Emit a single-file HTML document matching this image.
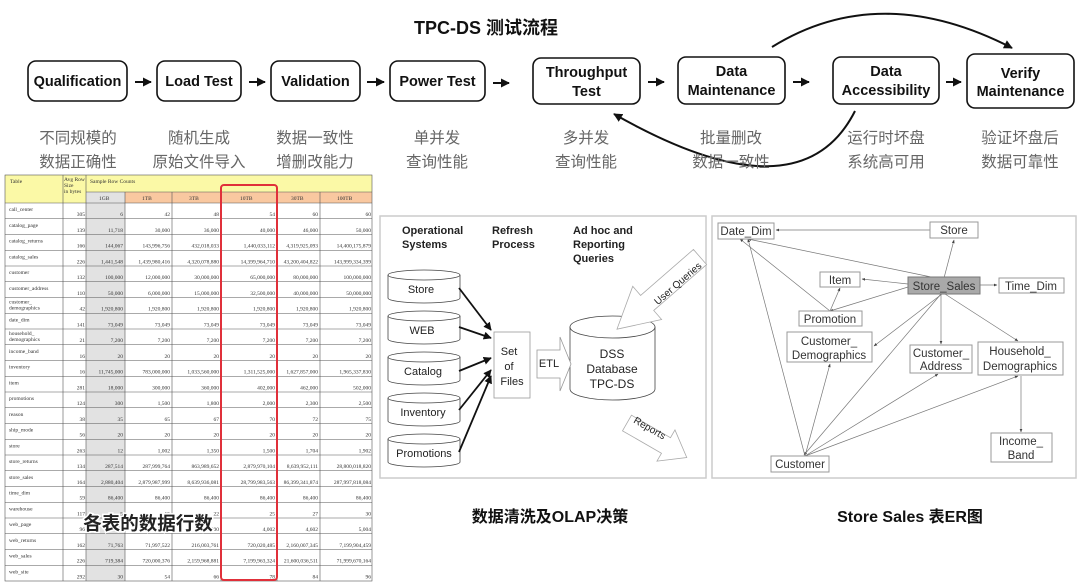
<!DOCTYPE html>
<html><head><meta charset="utf-8"><style>
html,body{margin:0;padding:0;background:#fff;}
svg{display:block;font-family:"Liberation Sans","Noto Sans CJK SC",sans-serif;}
.t{font-family:"Liberation Serif",serif;font-size:5.5px;fill:#333;}
.n{font-family:"Liberation Serif",serif;font-size:5.5px;fill:#333;text-anchor:end;}
.fb{fill:#fff;stroke:#111;stroke-width:1.6;}
.ft{font-size:14.5px;fill:#111;text-anchor:middle;font-weight:bold;}
.sub{font-size:15.5px;fill:#666;text-anchor:middle;font-family:"Liberation Sans","Noto Sans CJK SC",sans-serif;}
.er{fill:#fff;stroke:#999;stroke-width:1;}
.et{font-size:11.5px;fill:#333;text-anchor:middle;}
.el{stroke:#777;stroke-width:0.7;fill:none;marker-end:url(#sa);}
.mt{font-size:11px;fill:#222;text-anchor:middle;}
</style></head><body>
<svg width="1080" height="586" viewBox="0 0 1080 586" xmlns="http://www.w3.org/2000/svg">
<defs>
<marker id="ba" viewBox="0 0 10 10" refX="9" refY="5" markerWidth="4.5" markerHeight="4.5" orient="auto"><path d="M0,0L10,5L0,10z" fill="#111"/></marker>
<marker id="sa" viewBox="0 0 10 10" refX="9" refY="5" markerWidth="5" markerHeight="5" orient="auto"><path d="M0,1L10,5L0,9z" fill="#444"/></marker>
</defs>
<rect width="1080" height="586" fill="#fff"/>
<text x="486" y="34" font-size="18" font-weight="bold" text-anchor="middle" fill="#111">TPC-DS 测试流程</text>

<!-- flow boxes -->
<rect class="fb" x="28" y="61" width="99" height="40" rx="8"/><text class="ft" x="77.5" y="86">Qualification</text>
<rect class="fb" x="157" y="61" width="84" height="40" rx="8"/><text class="ft" x="199" y="86">Load Test</text>
<rect class="fb" x="271" y="61" width="89" height="40" rx="8"/><text class="ft" x="315.5" y="86">Validation</text>
<rect class="fb" x="390" y="61" width="95" height="40" rx="8"/><text class="ft" x="437.5" y="86">Power Test</text>
<rect class="fb" x="533" y="58" width="107" height="46" rx="8"/><text class="ft" x="586.5" y="77">Throughput</text><text class="ft" x="586.5" y="96">Test</text>
<rect class="fb" x="678" y="57" width="107" height="47" rx="8"/><text class="ft" x="731.5" y="76">Data</text><text class="ft" x="731.5" y="95">Maintenance</text>
<rect class="fb" x="833" y="57" width="106" height="47" rx="8"/><text class="ft" x="886" y="76">Data</text><text class="ft" x="886" y="95">Accessibility</text>
<rect class="fb" x="967" y="54" width="107" height="54" rx="8"/><text class="ft" x="1020.5" y="78">Verify</text><text class="ft" x="1020.5" y="96">Maintenance</text>
<g stroke="#111" stroke-width="2" marker-end="url(#ba)">
<line x1="135" y1="82" x2="151" y2="82"/><line x1="249" y1="82" x2="265" y2="82"/>
<line x1="367" y1="82" x2="384" y2="82"/><line x1="493" y1="83" x2="509" y2="83"/>
<line x1="648" y1="82" x2="664" y2="82"/><line x1="793" y1="82" x2="809" y2="82"/>
<line x1="946" y1="82" x2="961" y2="82"/>
</g>
<path d="M772,47 Q880,-20 1012,48" stroke="#111" stroke-width="2" fill="none" marker-end="url(#ba)"/>
<path d="M855,111 Q800,220 614,114" stroke="#111" stroke-width="2" fill="none" marker-end="url(#ba)"/>

<g class="sub">
<text x="78" y="143">不同规模的</text><text x="78" y="167">数据正确性</text>
<text x="199" y="143">随机生成</text><text x="199" y="167">原始文件导入</text>
<text x="315" y="143">数据一致性</text><text x="315" y="167">增删改能力</text>
<text x="437" y="143">单并发</text><text x="437" y="167">查询性能</text>
<text x="586" y="143">多并发</text><text x="586" y="167">查询性能</text>
<text x="731" y="143">批量删改</text><text x="731" y="167">数据一致性</text>
<text x="886" y="143">运行时坏盘</text><text x="886" y="167">系统高可用</text>
<text x="1020" y="143">验证坏盘后</text><text x="1020" y="167">数据可靠性</text>
</g>

<!-- table -->
<rect x="5" y="175" width="367" height="28" fill="#fbf9a6"/>
<rect x="86" y="192" width="39" height="389" fill="#e2e2e2"/>
<rect x="125" y="192" width="247" height="11" fill="#f9c8a0"/>
<g stroke="#555" stroke-width="0.6" fill="none">
<rect x="5" y="175" width="367" height="406"/>
<line x1="63" y1="175" x2="63" y2="581"/><line x1="86" y1="175" x2="86" y2="581"/>
<line x1="125" y1="192" x2="125" y2="581"/><line x1="172" y1="192" x2="172" y2="581"/>
<line x1="221" y1="192" x2="221" y2="581"/><line x1="277" y1="192" x2="277" y2="581"/>
<line x1="320" y1="192" x2="320" y2="581"/>
<line x1="86" y1="192" x2="372" y2="192"/>
<line x1="5" y1="203" x2="372" y2="203"/>
<line x1="5" y1="218.75" x2="372" y2="218.75"/><line x1="5" y1="234.5" x2="372" y2="234.5"/><line x1="5" y1="250.25" x2="372" y2="250.25"/><line x1="5" y1="266" x2="372" y2="266"/><line x1="5" y1="281.75" x2="372" y2="281.75"/><line x1="5" y1="297.5" x2="372" y2="297.5"/><line x1="5" y1="313.25" x2="372" y2="313.25"/><line x1="5" y1="329" x2="372" y2="329"/><line x1="5" y1="344.75" x2="372" y2="344.75"/><line x1="5" y1="360.5" x2="372" y2="360.5"/><line x1="5" y1="376.25" x2="372" y2="376.25"/><line x1="5" y1="392" x2="372" y2="392"/><line x1="5" y1="407.75" x2="372" y2="407.75"/><line x1="5" y1="423.5" x2="372" y2="423.5"/><line x1="5" y1="439.25" x2="372" y2="439.25"/><line x1="5" y1="455" x2="372" y2="455"/><line x1="5" y1="470.75" x2="372" y2="470.75"/><line x1="5" y1="486.5" x2="372" y2="486.5"/><line x1="5" y1="502.25" x2="372" y2="502.25"/><line x1="5" y1="518" x2="372" y2="518"/><line x1="5" y1="533.75" x2="372" y2="533.75"/><line x1="5" y1="549.5" x2="372" y2="549.5"/><line x1="5" y1="565.25" x2="372" y2="565.25"/>
</g>
<text class="t" x="10" y="183">Table</text><text class="t" x="64" y="181">Avg Row</text><text class="t" x="64" y="187">Size</text><text class="t" x="64" y="193">in bytes</text>
<text class="t" x="90" y="183">Sample Row Counts</text>
<text class="t" x="99" y="200">1GB</text><text class="t" x="142" y="200">1TB</text><text class="t" x="189" y="200">3TB</text><text class="t" x="240" y="200">10TB</text><text class="t" x="291" y="200">30TB</text><text class="t" x="337" y="200">100TB</text>

<g transform="translate(0,203)"><text class="t" x="9" y="8">call_center</text><text class="n" x="85" y="13">305</text><text class="n" x="123" y="13">6</text><text class="n" x="170" y="13">42</text><text class="n" x="219" y="13">48</text><text class="n" x="275" y="13">54</text><text class="n" x="318" y="13">60</text><text class="n" x="371" y="13">60</text></g>
<g transform="translate(0,218.75)"><text class="t" x="9" y="8">catalog_page</text><text class="n" x="85" y="13">139</text><text class="n" x="123" y="13">11,718</text><text class="n" x="170" y="13">30,000</text><text class="n" x="219" y="13">36,000</text><text class="n" x="275" y="13">40,000</text><text class="n" x="318" y="13">46,000</text><text class="n" x="371" y="13">50,000</text></g>
<g transform="translate(0,234.5)"><text class="t" x="9" y="8">catalog_returns</text><text class="n" x="85" y="13">166</text><text class="n" x="123" y="13">144,067</text><text class="n" x="170" y="13">143,996,756</text><text class="n" x="219" y="13">432,018,033</text><text class="n" x="275" y="13">1,440,033,112</text><text class="n" x="318" y="13">4,319,925,093</text><text class="n" x="371" y="13">14,400,175,879</text></g>
<g transform="translate(0,250.25)"><text class="t" x="9" y="8">catalog_sales</text><text class="n" x="85" y="13">226</text><text class="n" x="123" y="13">1,441,548</text><text class="n" x="170" y="13">1,439,980,416</text><text class="n" x="219" y="13">4,320,078,880</text><text class="n" x="275" y="13">14,399,964,710</text><text class="n" x="318" y="13">43,200,404,822</text><text class="n" x="371" y="13">143,999,334,399</text></g>
<g transform="translate(0,266)"><text class="t" x="9" y="8">customer</text><text class="n" x="85" y="13">132</text><text class="n" x="123" y="13">100,000</text><text class="n" x="170" y="13">12,000,000</text><text class="n" x="219" y="13">30,000,000</text><text class="n" x="275" y="13">65,000,000</text><text class="n" x="318" y="13">80,000,000</text><text class="n" x="371" y="13">100,000,000</text></g>
<g transform="translate(0,281.75)"><text class="t" x="9" y="8">customer_address</text><text class="n" x="85" y="13">110</text><text class="n" x="123" y="13">50,000</text><text class="n" x="170" y="13">6,000,000</text><text class="n" x="219" y="13">15,000,000</text><text class="n" x="275" y="13">32,500,000</text><text class="n" x="318" y="13">40,000,000</text><text class="n" x="371" y="13">50,000,000</text></g>
<g transform="translate(0,297.5)"><text class="t" x="9" y="6">customer_</text><text class="t" x="9" y="12">demographics</text><text class="n" x="85" y="13">42</text><text class="n" x="123" y="13">1,920,800</text><text class="n" x="170" y="13">1,920,800</text><text class="n" x="219" y="13">1,920,800</text><text class="n" x="275" y="13">1,920,800</text><text class="n" x="318" y="13">1,920,800</text><text class="n" x="371" y="13">1,920,800</text></g>
<g transform="translate(0,313.25)"><text class="t" x="9" y="8">date_dim</text><text class="n" x="85" y="13">141</text><text class="n" x="123" y="13">73,049</text><text class="n" x="170" y="13">73,049</text><text class="n" x="219" y="13">73,049</text><text class="n" x="275" y="13">73,049</text><text class="n" x="318" y="13">73,049</text><text class="n" x="371" y="13">73,049</text></g>
<g transform="translate(0,329)"><text class="t" x="9" y="6">household_</text><text class="t" x="9" y="12">demographics</text><text class="n" x="85" y="13">21</text><text class="n" x="123" y="13">7,200</text><text class="n" x="170" y="13">7,200</text><text class="n" x="219" y="13">7,200</text><text class="n" x="275" y="13">7,200</text><text class="n" x="318" y="13">7,200</text><text class="n" x="371" y="13">7,200</text></g>
<g transform="translate(0,344.75)"><text class="t" x="9" y="8">income_band</text><text class="n" x="85" y="13">16</text><text class="n" x="123" y="13">20</text><text class="n" x="170" y="13">20</text><text class="n" x="219" y="13">20</text><text class="n" x="275" y="13">20</text><text class="n" x="318" y="13">20</text><text class="n" x="371" y="13">20</text></g>
<g transform="translate(0,360.5)"><text class="t" x="9" y="8">inventory</text><text class="n" x="85" y="13">16</text><text class="n" x="123" y="13">11,745,000</text><text class="n" x="170" y="13">783,000,000</text><text class="n" x="219" y="13">1,033,560,000</text><text class="n" x="275" y="13">1,311,525,000</text><text class="n" x="318" y="13">1,627,857,000</text><text class="n" x="371" y="13">1,965,337,830</text></g>
<g transform="translate(0,376.25)"><text class="t" x="9" y="8">item</text><text class="n" x="85" y="13">281</text><text class="n" x="123" y="13">18,000</text><text class="n" x="170" y="13">300,000</text><text class="n" x="219" y="13">360,000</text><text class="n" x="275" y="13">402,000</text><text class="n" x="318" y="13">462,000</text><text class="n" x="371" y="13">502,000</text></g>
<g transform="translate(0,392)"><text class="t" x="9" y="8">promotions</text><text class="n" x="85" y="13">124</text><text class="n" x="123" y="13">300</text><text class="n" x="170" y="13">1,500</text><text class="n" x="219" y="13">1,800</text><text class="n" x="275" y="13">2,000</text><text class="n" x="318" y="13">2,300</text><text class="n" x="371" y="13">2,500</text></g>
<g transform="translate(0,407.75)"><text class="t" x="9" y="8">reason</text><text class="n" x="85" y="13">38</text><text class="n" x="123" y="13">35</text><text class="n" x="170" y="13">65</text><text class="n" x="219" y="13">67</text><text class="n" x="275" y="13">70</text><text class="n" x="318" y="13">72</text><text class="n" x="371" y="13">75</text></g>
<g transform="translate(0,423.5)"><text class="t" x="9" y="8">ship_mode</text><text class="n" x="85" y="13">56</text><text class="n" x="123" y="13">20</text><text class="n" x="170" y="13">20</text><text class="n" x="219" y="13">20</text><text class="n" x="275" y="13">20</text><text class="n" x="318" y="13">20</text><text class="n" x="371" y="13">20</text></g>
<g transform="translate(0,439.25)"><text class="t" x="9" y="8">store</text><text class="n" x="85" y="13">263</text><text class="n" x="123" y="13">12</text><text class="n" x="170" y="13">1,002</text><text class="n" x="219" y="13">1,350</text><text class="n" x="275" y="13">1,500</text><text class="n" x="318" y="13">1,704</text><text class="n" x="371" y="13">1,902</text></g>
<g transform="translate(0,455)"><text class="t" x="9" y="8">store_returns</text><text class="n" x="85" y="13">134</text><text class="n" x="123" y="13">287,514</text><text class="n" x="170" y="13">287,999,764</text><text class="n" x="219" y="13">863,989,652</text><text class="n" x="275" y="13">2,879,970,104</text><text class="n" x="318" y="13">8,639,952,111</text><text class="n" x="371" y="13">28,800,018,820</text></g>
<g transform="translate(0,470.75)"><text class="t" x="9" y="8">store_sales</text><text class="n" x="85" y="13">164</text><text class="n" x="123" y="13">2,880,404</text><text class="n" x="170" y="13">2,879,987,999</text><text class="n" x="219" y="13">8,639,936,081</text><text class="n" x="275" y="13">28,799,983,563</text><text class="n" x="318" y="13">86,399,341,874</text><text class="n" x="371" y="13">287,997,818,084</text></g>
<g transform="translate(0,486.5)"><text class="t" x="9" y="8">time_dim</text><text class="n" x="85" y="13">59</text><text class="n" x="123" y="13">86,400</text><text class="n" x="170" y="13">86,400</text><text class="n" x="219" y="13">86,400</text><text class="n" x="275" y="13">86,400</text><text class="n" x="318" y="13">86,400</text><text class="n" x="371" y="13">86,400</text></g>
<g transform="translate(0,502.25)"><text class="t" x="9" y="8">warehouse</text><text class="n" x="85" y="13">117</text><text class="n" x="123" y="13">5</text><text class="n" x="170" y="13">15</text><text class="n" x="219" y="13">22</text><text class="n" x="275" y="13">25</text><text class="n" x="318" y="13">27</text><text class="n" x="371" y="13">30</text></g>
<g transform="translate(0,518)"><text class="t" x="9" y="8">web_page</text><text class="n" x="85" y="13">96</text><text class="n" x="123" y="13">60</text><text class="n" x="170" y="13">3,000</text><text class="n" x="219" y="13">3,600</text><text class="n" x="275" y="13">4,002</text><text class="n" x="318" y="13">4,602</text><text class="n" x="371" y="13">5,004</text></g>
<g transform="translate(0,533.75)"><text class="t" x="9" y="8">web_returns</text><text class="n" x="85" y="13">162</text><text class="n" x="123" y="13">71,763</text><text class="n" x="170" y="13">71,997,522</text><text class="n" x="219" y="13">216,003,761</text><text class="n" x="275" y="13">720,020,485</text><text class="n" x="318" y="13">2,160,007,345</text><text class="n" x="371" y="13">7,199,904,459</text></g>
<g transform="translate(0,549.5)"><text class="t" x="9" y="8">web_sales</text><text class="n" x="85" y="13">226</text><text class="n" x="123" y="13">719,384</text><text class="n" x="170" y="13">720,000,376</text><text class="n" x="219" y="13">2,159,968,881</text><text class="n" x="275" y="13">7,199,963,324</text><text class="n" x="318" y="13">21,600,036,511</text><text class="n" x="371" y="13">71,999,670,164</text></g>
<g transform="translate(0,565.25)"><text class="t" x="9" y="8">web_site</text><text class="n" x="85" y="13">292</text><text class="n" x="123" y="13">30</text><text class="n" x="170" y="13">54</text><text class="n" x="219" y="13">66</text><text class="n" x="275" y="13">78</text><text class="n" x="318" y="13">84</text><text class="n" x="371" y="13">96</text></g>

<rect x="221" y="185" width="56" height="395" rx="3" fill="none" stroke="#e0303a" stroke-width="2"/>
<text x="148" y="530" font-size="18.5" font-weight="bold" text-anchor="middle" fill="#222" stroke="#fff" stroke-width="3" paint-order="stroke">各表的数据行数</text>

<!-- middle panel -->
<rect x="380" y="216" width="326" height="262" fill="#fff" stroke="#ccc" stroke-width="1.5"/>
<g font-size="11" font-weight="bold" fill="#222">
<text x="402" y="234">Operational</text><text x="402" y="248">Systems</text>
<text x="492" y="234">Refresh</text><text x="492" y="248">Process</text>
<text x="573" y="234">Ad hoc and</text><text x="573" y="248">Reporting</text><text x="573" y="262">Queries</text>
</g>
<g fill="#fff" stroke="#444" stroke-width="0.8">
<path d="M388,275 v23 a36,5 0 0 0 72,0 v-23"/><ellipse cx="424" cy="275" rx="36" ry="5"/>
<path d="M388,316 v23 a36,5 0 0 0 72,0 v-23"/><ellipse cx="424" cy="316" rx="36" ry="5"/>
<path d="M388,357 v23 a36,5 0 0 0 72,0 v-23"/><ellipse cx="424" cy="357" rx="36" ry="5"/>
<path d="M388,398 v23 a36,5 0 0 0 72,0 v-23"/><ellipse cx="424" cy="398" rx="36" ry="5"/>
<path d="M388,439 v23 a36,5 0 0 0 72,0 v-23"/><ellipse cx="424" cy="439" rx="36" ry="5"/>
<path d="M570,327 v62 a42.5,11 0 0 0 85,0 v-62"/><ellipse cx="612.5" cy="327" rx="42.5" ry="11"/>
<rect x="494" y="332" width="36" height="66" stroke="#999"/>
<path d="M537,350 h23 v-13 l11,27 l-11,27 v-13 h-23z" stroke="#999"/>
<path d="M0,-10 L70,-10 L70,-22 L110,0 L70,22 L70,10 L0,10z" stroke="#aaa" transform="translate(700,257) rotate(139)"/>
<path d="M0,-9 L45,-9 L45,-18 L69,0 L45,18 L45,9 L0,9z" stroke="#aaa" transform="translate(627,423) rotate(30)"/>
</g>
<g class="mt"><text x="421" y="293">Store</text><text x="422" y="334">WEB</text><text x="423" y="375">Catalog</text><text x="423" y="416">Inventory</text><text x="424" y="457">Promotions</text>
<text x="509" y="355" text-anchor="middle">Set</text><text x="509" y="370">of</text><text x="512" y="385">Files</text>
<text x="549" y="367">ETL</text>
<text x="612" y="358" font-size="12">DSS</text><text x="612" y="373" font-size="12">Database</text><text x="612" y="388" font-size="12">TPC-DS</text>
<text transform="translate(680,286) rotate(-41)" font-size="10">User Queries</text>
<text transform="translate(648,431) rotate(30)" font-size="10">Reports</text></g>
<g stroke="#111" stroke-width="1.8" marker-end="url(#ba)">
<line x1="459" y1="288" x2="491" y2="330"/><line x1="459" y1="327" x2="491" y2="338"/>
<line x1="459" y1="371" x2="491" y2="358"/><line x1="459" y1="410" x2="491" y2="370"/>
<line x1="459" y1="452" x2="491" y2="376"/>
</g>

<!-- right panel -->
<rect x="712" y="216" width="364" height="262" fill="#fff" stroke="#ccc" stroke-width="1.5"/>
<g>
<line class="el" x1="930" y1="230" x2="776" y2="230"/>
<line class="el" x1="944" y1="278" x2="954" y2="240"/>
<line class="el" x1="936" y1="278" x2="748" y2="239"/>
<line class="el" x1="908" y1="284" x2="862" y2="279"/>
<line class="el" x1="980" y1="285" x2="997" y2="285"/>
<line class="el" x1="908" y1="287" x2="830" y2="311"/>
<line class="el" x1="830" y1="311" x2="740" y2="239"/>
<line class="el" x1="830" y1="311" x2="840" y2="288"/>
<line class="el" x1="942" y1="294" x2="874" y2="346"/>
<line class="el" x1="941" y1="294" x2="941" y2="344"/>
<line class="el" x1="945" y1="294" x2="1018" y2="341"/>
<line class="el" x1="941" y1="294" x2="804" y2="455"/>
<line class="el" x1="805" y1="456" x2="748" y2="239"/>
<line class="el" x1="805" y1="456" x2="830" y2="364"/>
<line class="el" x1="805" y1="456" x2="938" y2="374"/>
<line class="el" x1="805" y1="456" x2="1018" y2="376"/>
<line class="el" x1="1021" y1="376" x2="1021" y2="432"/>
</g>
<rect class="er" x="718" y="223" width="56" height="16"/><text class="et" x="746" y="235">Date_Dim</text>
<rect class="er" x="930" y="222" width="48" height="16"/><text class="et" x="954" y="234">Store</text>
<rect class="er" x="820" y="272" width="40" height="15"/><text class="et" x="840" y="284">Item</text>
<rect x="908" y="277" width="72" height="17" fill="#a9a9a9" stroke="#777"/><text class="et" x="944" y="290">Store_Sales</text>
<rect class="er" x="999" y="278" width="65" height="15"/><text class="et" x="1031" y="290">Time_Dim</text>
<rect class="er" x="799" y="311" width="63" height="15"/><text class="et" x="830" y="323">Promotion</text>
<rect class="er" x="787" y="332" width="85" height="30"/><text class="et" x="829" y="345">Customer_</text><text class="et" x="829" y="359">Demographics</text>
<rect class="er" x="910" y="345" width="62" height="28"/><text class="et" x="941" y="357">Customer_</text><text class="et" x="941" y="370">Address</text>
<rect class="er" x="978" y="342" width="85" height="33"/><text class="et" x="1020" y="355">Household_</text><text class="et" x="1020" y="370">Demographics</text>
<rect class="er" x="991" y="433" width="61" height="29"/><text class="et" x="1021" y="445">Income_</text><text class="et" x="1021" y="459">Band</text>
<rect class="er" x="771" y="456" width="58" height="16"/><text class="et" x="800" y="468">Customer</text>

<text x="550" y="522" font-size="16" font-weight="bold" text-anchor="middle" fill="#111">数据清洗及OLAP决策</text>
<text x="910" y="522" font-size="16" font-weight="bold" text-anchor="middle" fill="#111">Store Sales 表ER图</text>
</svg>
</body></html>
